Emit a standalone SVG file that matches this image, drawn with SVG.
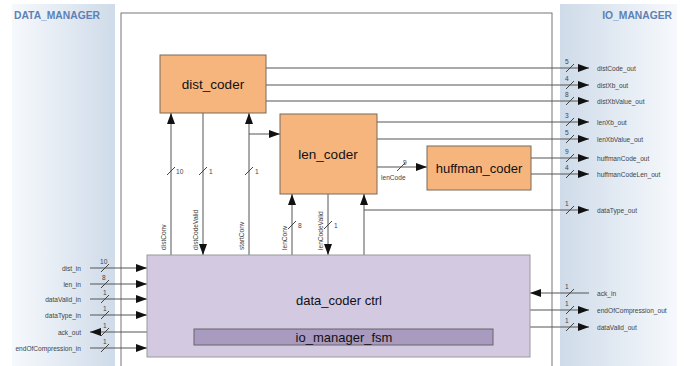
<svg xmlns="http://www.w3.org/2000/svg" width="686" height="366" viewBox="0 0 686 366">
<defs>
<linearGradient id="gl" x1="0" y1="0" x2="1" y2="0"><stop offset="0" stop-color="#f6f9fc"/><stop offset="1" stop-color="#cfdbe9"/></linearGradient>
<linearGradient id="gr" x1="0" y1="0" x2="1" y2="0"><stop offset="0" stop-color="#cfdbe9"/><stop offset="1" stop-color="#f6f9fc"/></linearGradient>
<marker id="ah" markerUnits="userSpaceOnUse" markerWidth="11" markerHeight="8" refX="11" refY="4" orient="auto"><path d="M0,0 L11,4 L0,8 z" fill="#111"/></marker>
</defs>
<style>
.c{stroke:#555;stroke-width:1;fill:none}
.a{marker-end:url(#ah)}
.s{stroke:#444;stroke-width:1}
.t{font-family:"Liberation Sans",Arial,sans-serif;font-size:6.6px;fill:#444}
.n{fill:#f7b57e;stroke:#7a6a5a;stroke-width:1}
.nt{font-family:"Liberation Sans",Arial,sans-serif;font-size:13.5px;fill:#111;text-anchor:middle}
.ttl{font-family:"Liberation Sans",Arial,sans-serif;font-size:10.3px;font-weight:bold;fill:#5d81b6}
</style>
<rect x="12" y="4" width="103" height="370" fill="url(#gl)"/>
<rect x="560" y="4" width="117" height="370" fill="url(#gr)"/>
<text class="ttl" x="14" y="19">DATA_MANAGER</text>
<text class="ttl" x="672" y="19" text-anchor="end">IO_MANAGER</text>
<rect x="121" y="13" width="431" height="370" fill="none" stroke="#777" stroke-width="1"/>

<g id="connectors">
<line class="c a" x1="266" y1="68" x2="589" y2="68"/>
<line class="c a" x1="266" y1="85" x2="589" y2="85"/>
<line class="c a" x1="266" y1="101" x2="589" y2="101"/>
<line class="c a" x1="377" y1="122" x2="589" y2="122"/>
<line class="c a" x1="377" y1="139" x2="589" y2="139"/>
<line class="c a" x1="531" y1="158" x2="589" y2="158"/>
<line class="c a" x1="531" y1="174" x2="589" y2="174"/>
<line class="c a" x1="364" y1="210" x2="589" y2="210"/>
<line class="c a" x1="377" y1="167" x2="427" y2="167"/>
<line class="c a" x1="171" y1="255" x2="171" y2="113"/>
<line class="c a" x1="203" y1="113" x2="203" y2="255"/>
<line class="c a" x1="249" y1="255" x2="249" y2="113"/>
<polyline class="c a" points="249,134 280,134"/>
<line class="c a" x1="292" y1="255" x2="292" y2="194"/>
<line class="c a" x1="328" y1="194" x2="328" y2="255"/>
<line class="c a" x1="364" y1="255" x2="364" y2="194"/>
<line class="c a" x1="90" y1="268" x2="147" y2="268"/>
<line class="c a" x1="90" y1="284" x2="147" y2="284"/>
<line class="c a" x1="90" y1="299" x2="147" y2="299"/>
<line class="c a" x1="90" y1="315" x2="147" y2="315"/>
<line class="c a" x1="147" y1="332" x2="90" y2="332"/>
<line class="c a" x1="90" y1="348" x2="147" y2="348"/>
<line class="c a" x1="589" y1="293" x2="530" y2="293"/>
<line class="c a" x1="530" y1="310" x2="589" y2="310"/>
<line class="c a" x1="530" y1="327" x2="589" y2="327"/>
<g class="s">
<line x1="566" y1="72" x2="574" y2="64"/>
<line x1="566" y1="89" x2="574" y2="81"/>
<line x1="566" y1="105" x2="574" y2="97"/>
<line x1="566" y1="126" x2="574" y2="118"/>
<line x1="566" y1="143" x2="574" y2="135"/>
<line x1="566" y1="162" x2="574" y2="154"/>
<line x1="566" y1="178" x2="574" y2="170"/>
<line x1="566" y1="214" x2="574" y2="206"/>
<line x1="566" y1="297" x2="574" y2="289"/>
<line x1="566" y1="314" x2="574" y2="306"/>
<line x1="566" y1="331" x2="574" y2="323"/>
<line x1="101" y1="272" x2="109" y2="264"/>
<line x1="101" y1="288" x2="109" y2="280"/>
<line x1="101" y1="303" x2="109" y2="295"/>
<line x1="101" y1="319" x2="109" y2="311"/>
<line x1="101" y1="336" x2="109" y2="328"/>
<line x1="101" y1="352" x2="109" y2="344"/>
<line x1="397" y1="171" x2="405" y2="163"/>
<line x1="167" y1="175" x2="175" y2="167"/>
<line x1="199" y1="175" x2="207" y2="167"/>
<line x1="245" y1="175" x2="253" y2="167"/>
<line x1="288" y1="229" x2="296" y2="221"/>
<line x1="324" y1="229" x2="332" y2="221"/>
</g>
<g class="t">
<text x="565" y="64">5</text>
<text x="565" y="81">4</text>
<text x="565" y="97">8</text>
<text x="565" y="118">3</text>
<text x="565" y="135">5</text>
<text x="565" y="154">9</text>
<text x="565" y="170">4</text>
<text x="565" y="206">1</text>
<text x="565" y="289">1</text>
<text x="565" y="306">1</text>
<text x="565" y="323">1</text>
<text x="100" y="264">10</text>
<text x="102" y="280">8</text>
<text x="103" y="295">1</text>
<text x="103" y="311">1</text>
<text x="103" y="328">1</text>
<text x="103" y="344">1</text>
<text x="403" y="165">9</text>
<text x="381" y="180">lenCode</text>
<text x="176" y="174">10</text>
<text x="209" y="174">1</text>
<text x="255" y="174">1</text>
<text x="298" y="228">8</text>
<text x="334" y="228">1</text>
<text transform="translate(166,250) rotate(-90)">distConv</text>
<text transform="translate(198,250) rotate(-90)">distCodeValid</text>
<text transform="translate(244,250) rotate(-90)">startConv</text>
<text transform="translate(287,250) rotate(-90)">lenConv</text>
<text transform="translate(323,250) rotate(-90)">lenCodeValid</text>
<text x="597" y="71">distCode_out</text>
<text x="597" y="88">distXb_out</text>
<text x="597" y="104">distXbValue_out</text>
<text x="597" y="125">lenXb_out</text>
<text x="597" y="142">lenXbValue_out</text>
<text x="597" y="161">huffmanCode_out</text>
<text x="597" y="177">huffmanCodeLen_out</text>
<text x="597" y="213">dataType_out</text>
<text x="597" y="296">ack_in</text>
<text x="597" y="313">endOfCompression_out</text>
<text x="597" y="330">dataValid_out</text>
<g text-anchor="end">
<text x="81" y="271">dist_in</text>
<text x="81" y="287">len_in</text>
<text x="81" y="302">dataValid_in</text>
<text x="81" y="318">dataType_in</text>
<text x="81" y="335">ack_out</text>
<text x="81" y="351">endOfCompression_in</text>
</g>
</g>
</g>

<g id="dist_coder">
<rect class="n" x="160" y="55" width="106" height="58"/>
<text class="nt" x="213" y="89">dist_coder</text>
</g>
<g id="len_coder">
<rect class="n" x="280" y="114" width="97" height="80"/>
<text class="nt" x="328" y="159">len_coder</text>
</g>
<g id="huffman_coder">
<rect class="n" x="427" y="146" width="104" height="44"/>
<text class="nt" x="479" y="173" style="font-size:13px">huffman_coder</text>
</g>
<g id="data_coder_ctrl">
<rect x="147" y="255" width="383" height="102" fill="#d3c9e1" stroke="#999" stroke-width="1"/>
<text class="nt" x="339" y="305" style="font-size:13px">data_coder ctrl</text>
</g>
<g id="io_manager_fsm">
<rect x="194" y="329" width="299" height="16" fill="#a99abf" stroke="#666" stroke-width="1"/>
<text class="nt" x="344" y="342" style="font-size:13px">io_manager_fsm</text>
</g>
</svg>
